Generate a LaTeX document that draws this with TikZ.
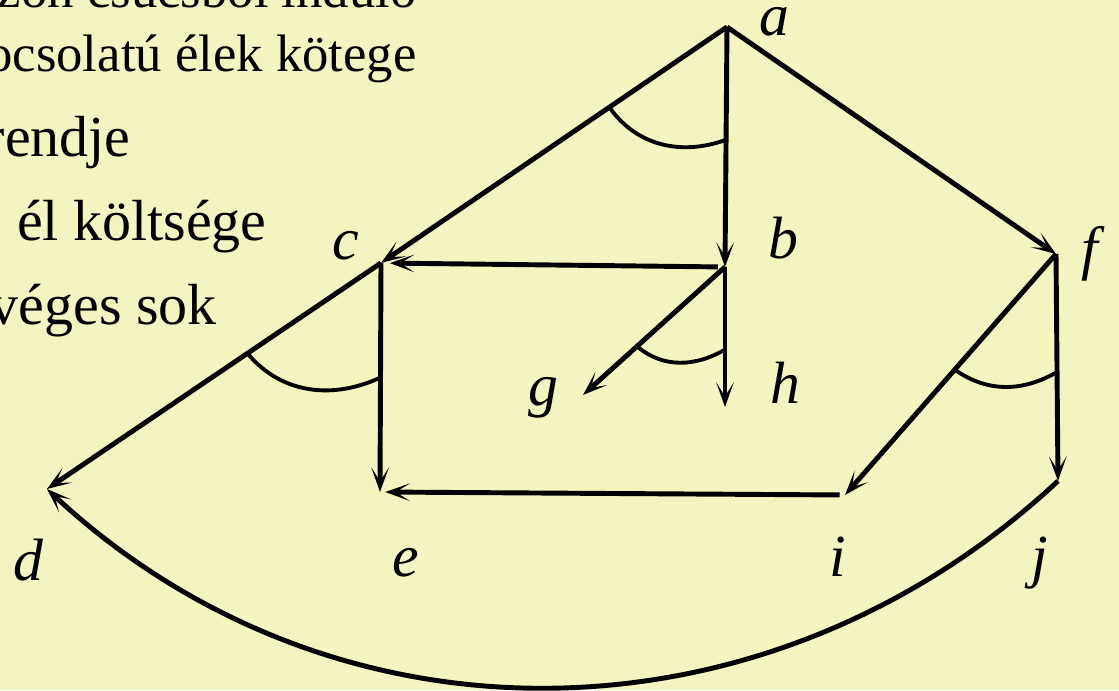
\documentclass[tikz,border=0pt]{standalone}
\usepackage{fontspec}
\setmainfont{Liberation Serif}
\usetikzlibrary{arrows.meta, calc}
\definecolor{paper}{RGB}{244,244,193}

\begin{document}
\begin{tikzpicture}[x=0.02cm, y=0.02cm,
  >={Stealth[length=14pt, width=10pt, inset=8pt]},
  edge/.style={->, line width=2.8pt},
  andarc/.style={line width=2.2pt},
  lbl/.style={inner sep=0pt, font=\fontsize{34}{40}\selectfont\itshape},
  txt/.style={inner sep=0pt, anchor=base east, font=\fontsize{33}{40}\selectfont},
  smalltxt/.style={txt, font=\fontsize{30}{36}\selectfont}
]
  \useasboundingbox (0,0) rectangle (1119,690);
  \fill[paper] (0,0) rectangle (1119,690);
  \clip (0,0) rectangle (1119,690);

  % Text
  \node[smalltxt] (t1) at (417,682) {zon csúcsból induló};
  \node[smalltxt] (t2) at (417,618) {ocsolatú élek kötege};
  \node[txt] (t3) at (131,533) {rendje};
  \node[txt] (t4) at (267,449) {él költsége};
  \node[txt] (t5) at (217,365) {véges sok};

  % Points
  \coordinate (a) at (727,663);
  \coordinate (b) at (725,423);
  \coordinate (c) at (381,427);
  \coordinate (d) at (47,201);
  \coordinate (e) at (380,198);
  \coordinate (f) at (1056,436);
  \coordinate (g) at (583,295);
  \coordinate (h) at (725,283);
  \coordinate (i) at (845,195);
  \coordinate (j) at (1058,209);

  % Labels
  \node[lbl] (la) at (774,668) {a};
  \node[lbl] (lb) at (783,452) {b};
  \node[lbl] (lc) at (346,444) {c};
  \node[lbl] (ld) at (28,130) {d};
  \node[lbl] (le) at (406,127) {e};
  \node[lbl] (lf) at (1090,436) {f};
  \node[lbl] (lg) at (543,292) {g};
  \node[lbl] (lh) at (785,307) {h};
  \node[lbl] (li) at (838,133) {i};
  \node[lbl] (lj) at (1040,127) {j};

  % Edges
  \draw[edge] (a) -- (b);
  \draw[edge] (a) -- (c);
  \draw[edge] (a) -- (f);
  \draw[edge, shorten <=4pt, shorten >=5pt] (b) -- (c);
  \draw[edge] (b) -- (g);
  \draw[edge] (b) -- (h);
  \draw[edge] (c) -- (d);
  \draw[edge] (c) -- (e);
  \draw[edge, shorten <=3pt, shorten >=3pt] (i) -- (e);
  \draw[edge] (f) -- (i);
  \draw[edge] (f) -- (j);
  \draw[edge] (j) to[out=-137, in=-43] (d);

  % AND arcs
  \draw[andarc] ($(a)!0.34!(c)$) to[out=-55, in=-160] ($(a)!0.47!(b)$);
  \draw[andarc] ($(b)!0.62!(g)$) to[out=-40, in=-150] ($(b)!0.59!(h)$);
  \draw[andarc] ($(c)!0.40!(d)$) to[out=-50, in=-155] ($(c)!0.50!(e)$);
  \draw[andarc] ($(f)!0.48!(i)$) to[out=-35, in=-150] ($(f)!0.52!(j)$);
\end{tikzpicture}
\end{document}
